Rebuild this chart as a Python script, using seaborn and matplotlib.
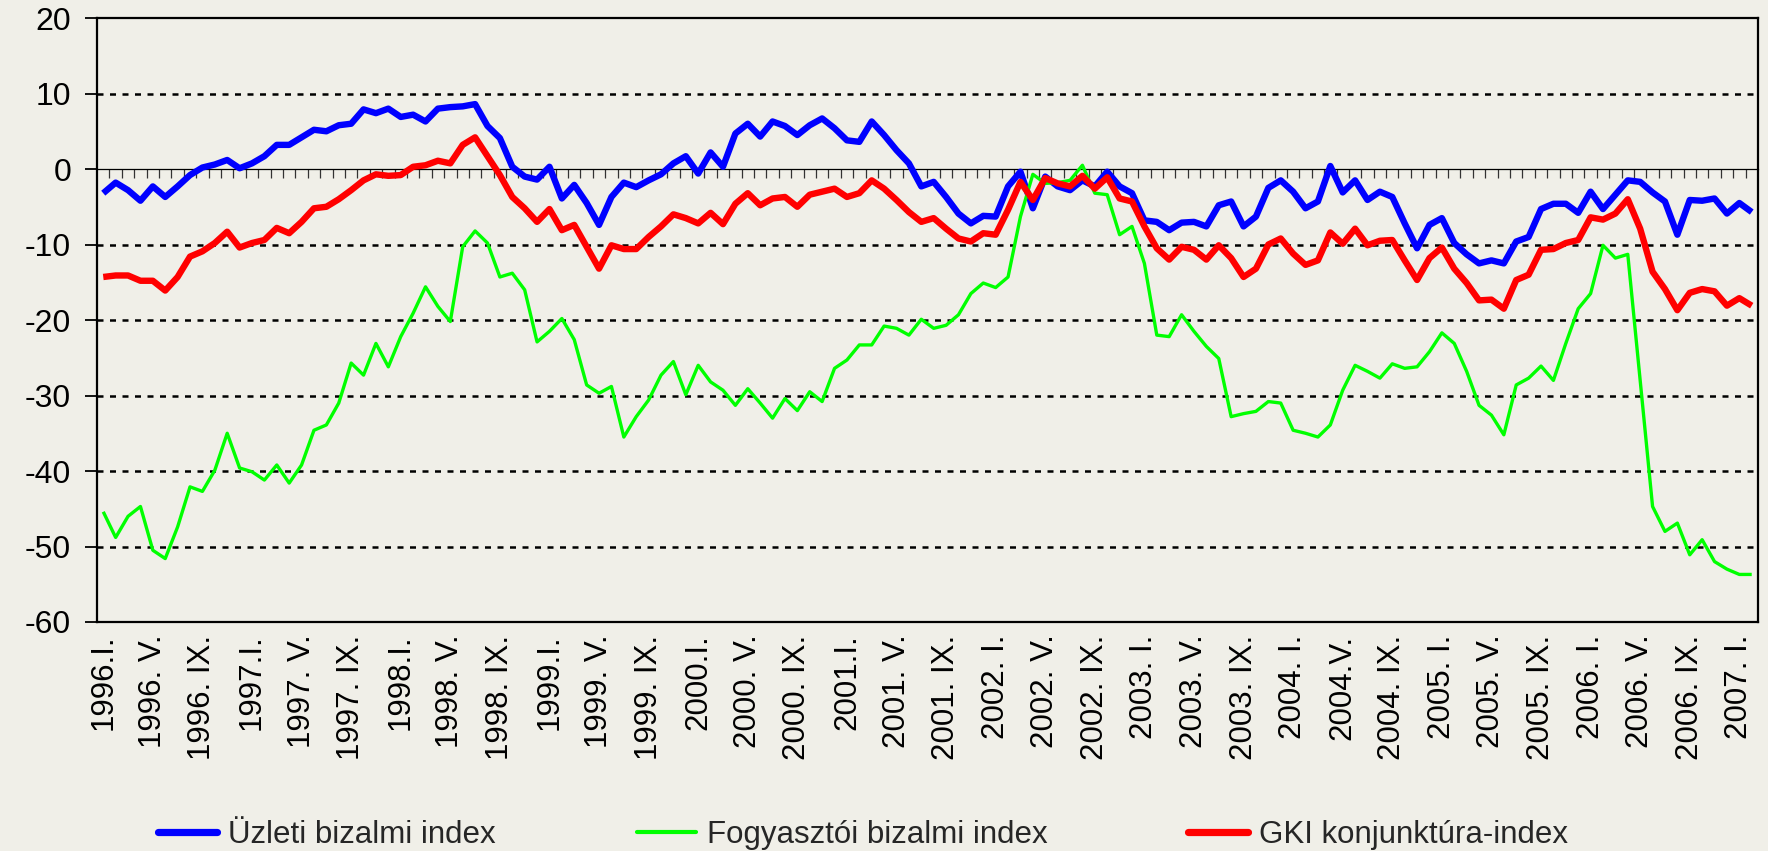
import numpy as np
import pandas as pd
import matplotlib
matplotlib.use("Agg")
import matplotlib.pyplot as plt
import seaborn as sns
from matplotlib.lines import Line2D

# ---------------- data ----------------
tick_labels = [
    "1996.I.", "1996. V.", "1996. IX.", "1997.I.", "1997. V.", "1997. IX.",
    "1998.I.", "1998. V.", "1998. IX.", "1999.I.", "1999. V.", "1999. IX.",
    "2000.I.", "2000. V.", "2000. IX.", "2001.I.", "2001. V.", "2001. IX.",
    "2002. I.", "2002. V.", "2002. IX.", "2003. I.", "2003. V.", "2003. IX.",
    "2004. I.", "2004.V.", "2004. IX.", "2005. I.", "2005. V.", "2005. IX.",
    "2006. I.", "2006. V.", "2006. IX.", "2007. I.",
]

series_names = ["Üzleti bizalmi index", "Fogyasztói bizalmi index", "GKI konjunktúra-index"]

uzleti = [
    -3.2, -1.8, -2.8, -4.2, -2.3, -3.7, -2.3, -0.8, 0.2, 0.6, 1.2, 0.1,
    0.75, 1.7, 3.2, 3.2, 4.2, 5.2, 5.0, 5.8, 6.0, 7.9, 7.4, 8.0,
    6.9, 7.2, 6.3, 8.0, 8.2, 8.3, 8.6, 5.7, 4.1, 0.3, -1.0, -1.4,
    0.3, -3.9, -2.1, -4.5, -7.4, -3.7, -1.8, -2.4, -1.5, -0.7, 0.75, 1.7,
    -0.6, 2.2, 0.3, 4.7, 6.0, 4.3, 6.3, 5.7, 4.5, 5.8, 6.7, 5.4,
    3.8, 3.6, 6.3, 4.5, 2.5, 0.75, -2.3, -1.7, -3.7, -5.9, -7.2, -6.2,
    -6.3, -2.3, -0.35, -5.2, -1.0, -2.3, -2.8, -1.5, -2.3, -0.35, -2.3, -3.2,
    -6.8, -7.0, -8.1, -7.1, -7.0, -7.6, -4.8, -4.3, -7.6, -6.3, -2.5, -1.5,
    -3.0, -5.2, -4.3, 0.4, -3.1, -1.5, -4.1, -3.0, -3.7, -7.2, -10.5, -7.4,
    -6.5, -9.8, -11.3, -12.5, -12.1, -12.5, -9.6, -9.0, -5.3, -4.6, -4.6, -5.8,
    -3.0, -5.3, -3.4, -1.5, -1.7, -3.1, -4.3, -8.7, -4.1, -4.2, -3.9, -5.9,
    -4.5, -5.7,
]

fogyasztoi = [
    -45.4, -48.8, -46.0, -44.7, -50.5, -51.6, -47.4, -42.1, -42.7, -39.9, -35.0, -39.6,
    -40.1, -41.2, -39.2, -41.6, -39.2, -34.6, -33.9, -31.0, -25.7, -27.3, -23.1, -26.2,
    -22.2, -19.1, -15.6, -18.2, -20.2, -10.3, -8.2, -9.8, -14.3, -13.8, -16.0, -22.9,
    -21.5, -19.8, -22.6, -28.6, -29.7, -28.8, -35.5, -32.8, -30.6, -27.3, -25.5, -29.9,
    -26.0, -28.2, -29.3, -31.3, -29.1, -31.0, -33.0, -30.4, -32.0, -29.5, -30.8, -26.4,
    -25.3, -23.3, -23.3, -20.8, -21.1, -22.0, -19.9, -21.1, -20.7, -19.3, -16.5, -15.1,
    -15.7, -14.3, -6.3, -0.7, -1.9, -1.8, -1.5, 0.5, -3.2, -3.4, -8.7, -7.6,
    -12.5, -22.0, -22.2, -19.3, -21.5, -23.5, -25.1, -32.8, -32.4, -32.1, -30.8, -31.0,
    -34.6, -35.0, -35.5, -33.9, -29.3, -26.0, -26.8, -27.7, -25.8, -26.4, -26.2, -24.2,
    -21.7, -23.1, -26.8, -31.3, -32.6, -35.2, -28.6, -27.7, -26.1, -28.0, -23.1, -18.5,
    -16.5, -10.1, -11.8, -11.3, -28.0, -44.7, -48.0, -46.9, -51.1, -49.1, -52.0, -53.0,
    -53.7, -53.7,
]

gki = [
    -14.3, -14.1, -14.1, -14.8, -14.8, -16.1, -14.3, -11.6, -10.9, -9.8, -8.3, -10.4,
    -9.8, -9.4, -7.8, -8.5, -7.0, -5.2, -5.0, -4.0, -2.8, -1.5, -0.7, -0.9,
    -0.8, 0.3, 0.5, 1.1, 0.75, 3.2, 4.2, 1.7, -0.8, -3.7, -5.2, -7.0,
    -5.3, -8.1, -7.4, -10.3, -13.2, -10.1, -10.6, -10.6, -9.0, -7.6, -6.0, -6.5,
    -7.2, -5.8, -7.3, -4.6, -3.2, -4.8, -3.9, -3.7, -5.0, -3.4, -3.0, -2.6,
    -3.7, -3.2, -1.5, -2.6, -4.1, -5.7, -7.0, -6.5, -7.9, -9.2, -9.6, -8.5,
    -8.7, -5.4, -1.7, -4.1, -1.2, -1.9, -2.3, -0.9, -2.6, -1.1, -3.9, -4.3,
    -7.6, -10.5, -12.0, -10.3, -10.7, -12.0, -10.1, -11.8, -14.3, -13.2, -10.0, -9.2,
    -11.2, -12.7, -12.1, -8.4, -9.9, -7.9, -10.1, -9.5, -9.4, -12.1, -14.7, -11.8,
    -10.4, -13.2, -15.1, -17.4, -17.3, -18.5, -14.7, -14.0, -10.7, -10.6, -9.8, -9.4,
    -6.4, -6.7, -5.9, -4.0, -7.9, -13.6, -15.9, -18.7, -16.4, -15.9, -16.2, -18.1,
    -17.1, -18.1,
]

y_ticks = [-60, -50, -40, -30, -20, -10, 0, 10, 20]

# ---------------- styling ----------------
bg = "#f0efe8"
colors = {series_names[0]: "#0000ff", series_names[1]: "#00ff00", series_names[2]: "#ff0000"}
widths = {series_names[0]: 4.6, series_names[1]: 2.4, series_names[2]: 4.6}

sns.set_style("white")
plt.rcParams["font.family"] = ["Liberation Sans", "DejaVu Sans"]

n = len(uzleti)
months = np.arange(n)
df = pd.DataFrame({"honap": months,
                   series_names[0]: uzleti,
                   series_names[1]: fogyasztoi,
                   series_names[2]: gki})
long_df = df.melt(id_vars="honap", var_name="sorozat", value_name="ertek")

fig = plt.figure(figsize=(17.68, 8.51), dpi=100, facecolor=bg)
ax = fig.add_axes([0.0549, 0.2691, 0.9394, 0.7097])
ax.patch.set_visible(False)

# zero axis with monthly tick marks (twin axis drawn below the data)
ax2 = ax.twiny()
ax2.set_zorder(ax.get_zorder() - 1)
ax2.patch.set_visible(False)
ax2.set_xlim(-0.5, n - 0.5)
for s in ["top", "left", "right"]:
    ax2.spines[s].set_visible(False)
ax2.spines["bottom"].set_visible(True)
ax2.spines["bottom"].set_position(("data", 0))
ax2.spines["bottom"].set_linewidth(0.9)
ax2.spines["bottom"].set_color("black")
ax2.xaxis.set_ticks_position("bottom")
ax2.set_xticks(np.arange(0.5, n - 1, 1.0))
ax2.set_xticklabels([])
ax2.tick_params(axis="x", direction="out", length=6.5, width=0.9, color="#333333",
                bottom=True, top=False, labelbottom=False, labeltop=False)

# dashed gridlines
for v in y_ticks[1:-1]:
    if v != 0:
        ax.axhline(v, color="black", linewidth=1.8, linestyle=(0, (2.4, 2.6)), zorder=1)

for name in series_names:
    sns.lineplot(data=long_df[long_df["sorozat"] == name], x="honap", y="ertek",
                 color=colors[name], linewidth=widths[name], ax=ax, legend=False,
                 zorder=3, solid_joinstyle="round", solid_capstyle="butt")

ax.set_xlim(-0.5, n - 0.5)
ax.set_ylim(-60, 20)
ax.set_yticks(y_ticks)
ax.set_yticklabels([str(v) for v in y_ticks])
ax.set_xticks(np.arange(0, n, 4))
ax.set_xticklabels(tick_labels, rotation=90)
ax.set_xlabel("")
ax.set_ylabel("")
ax.tick_params(axis="x", length=0, pad=9, labelsize=22.5, colors="black")
ax.tick_params(axis="y", direction="out", length=8.6, width=1.3, pad=10,
               labelsize=23, colors="black", left=True)
for s in ["top", "bottom", "left", "right"]:
    ax.spines[s].set_visible(True)
    ax.spines[s].set_color("black")
    ax.spines[s].set_linewidth(1.6)
ax.grid(False)

handles = [Line2D([0], [0], color=colors[nm], linewidth=widths[nm] + 0.6) for nm in series_names]
fig.legend(handles, series_names, loc="center", bbox_to_anchor=(0.488, 0.019),
           ncol=3, frameon=False, fontsize=22.5, handlelength=1.9,
           handletextpad=0.35, columnspacing=4.5)

fig.savefig("out.png", dpi=100, facecolor=bg)
